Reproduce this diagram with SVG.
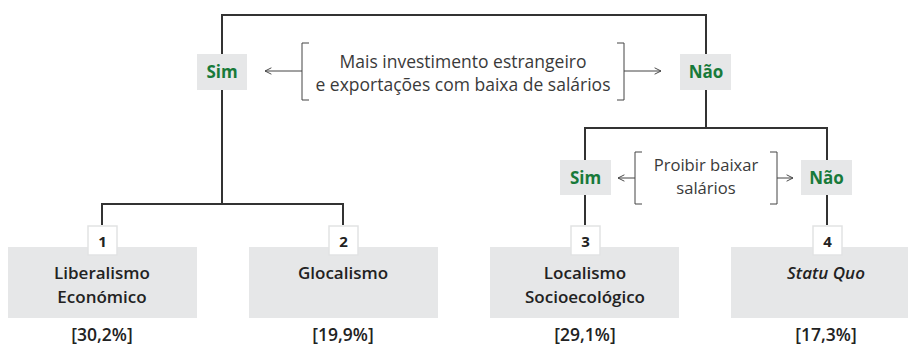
<svg xmlns="http://www.w3.org/2000/svg" width="908" height="347" viewBox="0 0 908 347">
<style>
.bg{fill:#ffffff}
.lab{font-family:"Open Sans","Liberation Sans",sans-serif;font-size:17px;font-weight:700;fill:#187a3a;text-anchor:middle}
.q{font-family:"Open Sans","Liberation Sans",sans-serif;font-size:17.5px;fill:#3a3a3a;text-anchor:middle}
.q2{font-family:"Open Sans","Liberation Sans",sans-serif;font-size:16.6px;fill:#3a3a3a;text-anchor:middle}
.box{fill:#e6e7e8}
.num{fill:#ffffff;stroke:#e2e3e4;stroke-width:1.5}
.numt{font-family:"Open Sans","Liberation Sans",sans-serif;font-size:15px;font-weight:700;fill:#222;text-anchor:middle}
.name{font-family:"Open Sans","Liberation Sans",sans-serif;font-size:17px;font-weight:600;fill:#222;text-anchor:middle}
.pct{font-family:"Open Sans","Liberation Sans",sans-serif;font-size:17.5px;font-weight:600;fill:#222;text-anchor:middle}
.conn{fill:none;stroke:#333;stroke-width:2}
.thin{fill:none;stroke:#444;stroke-width:1}
</style>
<defs>
<marker id="ah" viewBox="0 0 10 10" refX="9" refY="5" markerWidth="8" markerHeight="8" markerUnits="userSpaceOnUse" orient="auto">
<path d="M1,1 L9,5 L1,9" fill="none" stroke="#444" stroke-width="1.2"/>
</marker>
</defs>
<rect class="bg" x="0" y="0" width="908" height="347"/>

<g id="connectors">
<path class="conn" d="M222,55 V15 H706 V54"/>
<path class="conn" d="M222,90 V204"/>
<path class="conn" d="M102,225 V204 H343 V225"/>
<path class="conn" d="M706,90 V128"/>
<path class="conn" d="M585,160 V128 H827 V160"/>
<path class="conn" d="M585,195 V225"/>
<path class="conn" d="M827,195 V225"/>
<path class="thin" d="M302,71 H265" marker-end="url(#ah)"/>
<path class="thin" d="M624,71 H661" marker-end="url(#ah)"/>
<path class="thin" d="M635,178 H618" marker-end="url(#ah)"/>
<path class="thin" d="M777,178 H793" marker-end="url(#ah)"/>
</g>

<g id="q1">
<path class="thin" d="M309,43 H302 V100 H309"/>
<path class="thin" d="M617,43 H624 V100 H617"/>
<text class="q"><tspan x="463" y="68">Mais investimento estrangeiro</tspan><tspan x="463" y="91">e exportações com baixa de salários</tspan></text>
</g>
<g id="sim1"><rect class="box" x="197" y="54" width="50" height="36"/><text class="lab" x="222" y="78">Sim</text></g>
<g id="nao1"><rect class="box" x="680" y="54" width="51" height="36"/><text class="lab" x="706" y="78">Não</text></g>

<g id="q2">
<path class="thin" d="M642,152 H635 V204 H642"/>
<path class="thin" d="M770,152 H777 V204 H770"/>
<text class="q2"><tspan x="706" y="171">Proibir baixar</tspan><tspan x="706" y="193.8">salários</tspan></text>
</g>
<g id="sim2"><rect class="box" x="560" y="160" width="51" height="35"/><text class="lab" x="585.5" y="184">Sim</text></g>
<g id="nao2"><rect class="box" x="801" y="160" width="51" height="35"/><text class="lab" x="826.5" y="184">Não</text></g>

<g id="r1">
<rect class="box" x="8" y="247" width="189" height="71"/>
<rect class="num" x="88" y="226" width="29" height="29"/>
<text class="numt" x="102.5" y="247">1</text>
<text class="name"><tspan x="102" y="279">Liberalismo</tspan><tspan x="102" y="303">Económico</tspan></text>
<text class="pct" x="102" y="341">[30,2%]</text>
</g>
<g id="r2">
<rect class="box" x="249" y="247" width="189" height="71"/>
<rect class="num" x="329" y="226" width="29" height="29"/>
<text class="numt" x="343.5" y="247">2</text>
<text class="name" x="343" y="279">Glocalismo</text>
<text class="pct" x="343" y="341">[19,9%]</text>
</g>
<g id="r3">
<rect class="box" x="490" y="247" width="189" height="71"/>
<rect class="num" x="571" y="226" width="29" height="29"/>
<text class="numt" x="585.5" y="247">3</text>
<text class="name"><tspan x="585" y="279">Localismo</tspan><tspan x="585" y="303">Socioecológico</tspan></text>
<text class="pct" x="585" y="341">[29,1%]</text>
</g>
<g id="r4">
<rect class="box" x="731" y="247" width="177" height="71"/>
<rect class="num" x="813" y="226" width="29" height="29"/>
<text class="numt" x="827.5" y="247">4</text>
<text class="name" x="826" y="279" font-style="italic" font-weight="500">Statu Quo</text>
<text class="pct" x="826" y="341">[17,3%]</text>
</g>
</svg>
